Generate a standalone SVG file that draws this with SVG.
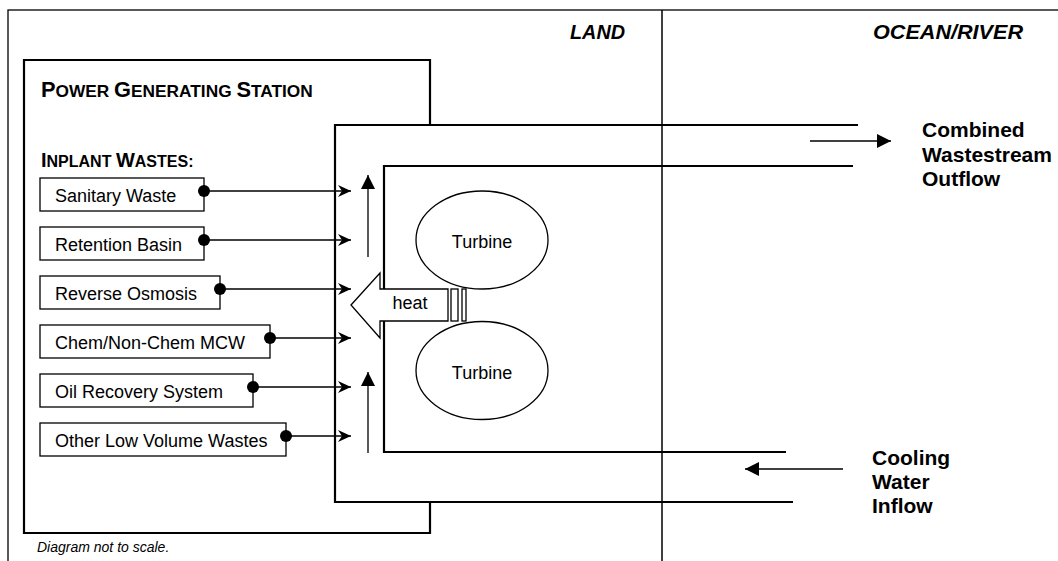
<svg xmlns="http://www.w3.org/2000/svg" width="1058" height="561" viewBox="0 0 1058 561">
<style>
text{font-family:"Liberation Sans",Arial,sans-serif;fill:#000}
.lbl{font-size:18px}
.big{font-size:21px;font-weight:bold}
.zone{font-size:20px;font-weight:bold;font-style:italic}
.box{fill:#fff;stroke:#000;stroke-width:1.3}
.thick{fill:none;stroke:#000;stroke-width:2.2}
.thin{fill:none;stroke:#000;stroke-width:1.3}
.conn{fill:none;stroke:#000;stroke-width:1.3}
</style>
<defs>
<marker id="barb" markerUnits="userSpaceOnUse" markerWidth="14" markerHeight="14" refX="13" refY="7" orient="auto">
<path d="M0,1 L13,7 L0,13 L4,7 Z" fill="#000"/>
</marker>
<marker id="tri" markerUnits="userSpaceOnUse" markerWidth="15" markerHeight="14" refX="14" refY="7" orient="auto">
<path d="M0,0 L14,7 L0,14 Z" fill="#000"/>
</marker>
</defs>
<rect width="1058" height="561" fill="#fff"/>
<g id="frame">
<rect x="8" y="10" width="1062" height="560" class="thin" stroke="#222"/>
<line x1="662" y1="10" x2="662" y2="561" stroke="#000" stroke-width="1.5"/>
<text class="zone" x="570" y="39" textLength="55" lengthAdjust="spacingAndGlyphs">LAND</text>
<text class="zone" x="873" y="39" textLength="150" lengthAdjust="spacingAndGlyphs">OCEAN/RIVER</text>
<text x="37" y="552" font-size="14" font-style="italic">Diagram not to scale.</text>
</g>
<g id="station">
<path class="thick" d="M430,125 V60 H24 V533 H430 V502"/>
<text x="41" y="97" font-weight="bold" font-size="17.3"><tspan font-size="21.8">P</tspan>OWER <tspan font-size="21.8">G</tspan>ENERATING <tspan font-size="21.8">S</tspan>TATION</text>
<text x="41" y="167" font-weight="bold" font-size="16"><tspan font-size="20">I</tspan>NPLANT <tspan font-size="20">W</tspan>ASTES:</text>
</g>
<g id="channel">
<path class="thick" d="M858,125 H335 V502 H793"/>
<path class="thick" d="M853,166 H384 V452 H786"/>
</g>
<g id="turbine-top">
<ellipse cx="482" cy="240" rx="66" ry="49" class="thin"/>
<text class="lbl" x="482" y="248" text-anchor="middle">Turbine</text>
</g>
<g id="turbine-bottom">
<ellipse cx="482" cy="370.5" rx="66" ry="49" class="thin"/>
<text class="lbl" x="482" y="379" text-anchor="middle">Turbine</text>
</g>
<g id="heat">
<path d="M351,305 L380,273 V289 H448 V321 H380 V338 Z" fill="#fff" stroke="#000" stroke-width="1.3"/>
<text class="lbl" x="410" y="309" text-anchor="middle">heat</text>
<rect x="451" y="289" width="7" height="32" class="box"/>
<rect x="462" y="289" width="4" height="32" class="box"/>
</g>
<g id="wastes">
<g id="sanitary-waste"><rect x="40" y="178" width="164" height="33" class="box"/><text class="lbl" x="55" y="202">Sanitary Waste</text></g>
<g id="retention-basin"><rect x="40" y="227" width="164" height="33" class="box"/><text class="lbl" x="55" y="251">Retention Basin</text></g>
<g id="reverse-osmosis"><rect x="40" y="276" width="180" height="33" class="box"/><text class="lbl" x="55" y="300">Reverse Osmosis</text></g>
<g id="chem-mcw"><rect x="40" y="325" width="230" height="33" class="box"/><text class="lbl" x="55" y="349">Chem/Non-Chem MCW</text></g>
<g id="oil-recovery"><rect x="40" y="374" width="213" height="33" class="box"/><text class="lbl" x="55" y="398">Oil Recovery System</text></g>
<g id="other-low-volume"><rect x="40" y="423" width="246" height="33" class="box"/><text class="lbl" x="55" y="447">Other Low Volume Wastes</text></g>
</g>
<g id="connectors">
<g fill="#000">
<circle cx="204" cy="191" r="6"/>
<circle cx="204" cy="240" r="6"/>
<circle cx="220" cy="289" r="6"/>
<circle cx="270" cy="338" r="6"/>
<circle cx="253" cy="387" r="6"/>
<circle cx="286" cy="436" r="6"/>
</g>
<line class="conn" x1="204" y1="191" x2="351" y2="191" marker-end="url(#barb)"/>
<line class="conn" x1="204" y1="240" x2="351" y2="240" marker-end="url(#barb)"/>
<line class="conn" x1="220" y1="289" x2="351" y2="289" marker-end="url(#barb)"/>
<line class="conn" x1="270" y1="338" x2="351" y2="338" marker-end="url(#barb)"/>
<line class="conn" x1="253" y1="387" x2="351" y2="387" marker-end="url(#barb)"/>
<line class="conn" x1="286" y1="436" x2="351" y2="436" marker-end="url(#barb)"/>
<line class="conn" x1="368" y1="257" x2="368" y2="175" marker-end="url(#tri)"/>
<line class="conn" x1="368" y1="453" x2="368" y2="372" marker-end="url(#tri)"/>
<line class="conn" x1="810" y1="141" x2="891" y2="141" marker-end="url(#tri)"/>
<line class="conn" x1="843" y1="469" x2="745" y2="469" marker-end="url(#tri)"/>
</g>
<g id="flow-labels">
<text class="big" x="922" y="137">Combined</text>
<text class="big" x="922" y="162">Wastestream</text>
<text class="big" x="922" y="186">Outflow</text>
<text class="big" x="872" y="465">Cooling</text>
<text class="big" x="872" y="489">Water</text>
<text class="big" x="872" y="513">Inflow</text>
</g>
</svg>
